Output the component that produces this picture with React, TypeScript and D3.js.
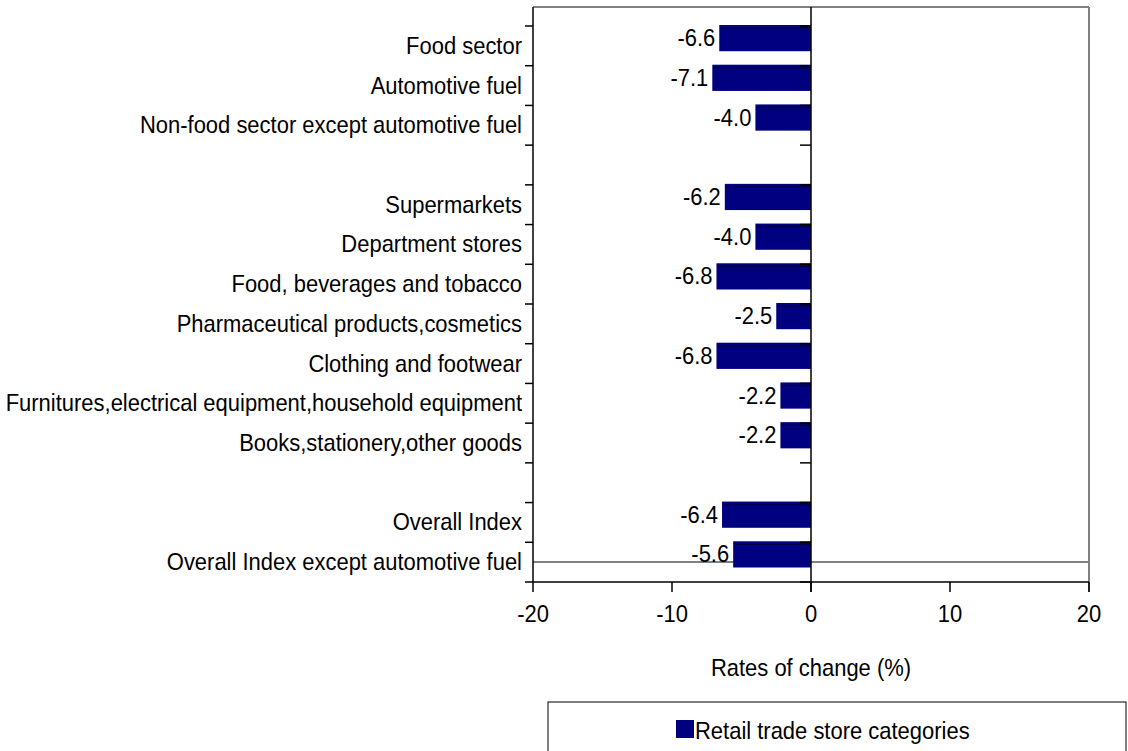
import React from 'react';
import { scaleBand, scaleLinear, range } from 'd3';

const categories = [
  'Food sector',
  'Automotive fuel',
  'Non-food sector except automotive fuel',
  '',
  'Supermarkets',
  'Department stores',
  'Food, beverages and tobacco',
  'Pharmaceutical products,cosmetics',
  'Clothing and footwear',
  'Furnitures,electrical equipment,household equipment',
  'Books,stationery,other goods',
  '',
  'Overall Index',
  'Overall Index except automotive fuel',
];
const values: (number | null)[] = [-6.6, -7.1, -4.0, null, -6.2, -4.0, -6.8, -2.5, -6.8, -2.2, -2.2, null, -6.4, -5.6];
const xTicks = [-20, -10, 0, 10, 20];
const seriesName = 'Retail trade store categories';
const axisTitle = 'Rates of change (%)';

const width = 1128;
const height = 751;
const plot = { left: 533, right: 1089, top: 26, bottom: 582 };
const font = '"Liberation Sans", Arial, sans-serif';
const barColor = '#000080';
const fs = 24;
const sx = 0.915; // text in the picture is a bit narrow

// narrow text helper
function T({ x, y, anchor = 'start', children }: { x: number; y: number; anchor?: string; children: React.ReactNode }) {
  return (
    <text transform={`translate(${x},${y}) scale(${sx},1)`} textAnchor={anchor} fontSize={fs} fill="#000">{children}</text>
  );
}

export default function App() {
  const x = scaleLinear().domain([-20, 20]).range([plot.left, plot.right]);
  const y = scaleBand<number>().domain(range(categories.length)).range([plot.top, plot.bottom]).padding(0);
  const bw = y.bandwidth();
  const barH = bw * 0.66;
  const x0 = x(0);
  const tickYs = range(categories.length + 1).map(i => plot.top + i * bw);

  return (
    <svg width={width} height={height} style={{ position: 'absolute', left: 0, top: 0 }} fontFamily={font}>
      <rect width={width} height={height} fill="#fff" />
      {/* plot frame */}
      <line x1={plot.left} x2={plot.right} y1={7} y2={7} stroke="#808080" strokeWidth={2} />
      <line x1={plot.right} x2={plot.right} y1={7} y2={plot.bottom + 10} stroke="#808080" strokeWidth={2} />
      <line x1={plot.left} x2={plot.right} y1={562} y2={562} stroke="#808080" strokeWidth={2} />

      {/* bars */}
      {values.map((v, i) => v === null ? null : (
        <g key={i}>
          <rect x={x(v)} y={y(i)! - 1} width={x0 - x(v)} height={barH} fill={barColor} />
          <line x1={x(v) + 1} x2={x0} y1={y(i)! + 2} y2={y(i)! + 2} stroke="#00004a" strokeWidth={1.5} />
          <T x={x(v) - 4} y={y(i)! + barH / 2 + 7} anchor="end">{v.toFixed(1)}</T>
        </g>
      ))}

      {/* zero line */}
      <line x1={x0} x2={x0} y1={7} y2={plot.bottom + 10} stroke="#000" strokeWidth={1.5} />
      {tickYs.map((t, i) => <line key={'z' + i} x1={x0 - 11} x2={x0} y1={t} y2={t} stroke="#000" strokeWidth={1.5} />)}

      {/* left axis */}
      <line x1={plot.left} x2={plot.left} y1={7} y2={plot.bottom} stroke="#000" strokeWidth={1.5} />
      {tickYs.map((t, i) => <line key={'l' + i} x1={plot.left - 8} x2={plot.left} y1={t} y2={t} stroke="#000" strokeWidth={1.5} />)}
      {categories.map((c, i) => (
        <T key={'c' + i} x={522} y={y(i)! + bw / 2 + 8} anchor="end">{c}</T>
      ))}

      {/* bottom axis */}
      <line x1={plot.left} x2={plot.right} y1={plot.bottom} y2={plot.bottom} stroke="#000" strokeWidth={1.5} />
      {xTicks.map(t => (
        <g key={t}>
          <line x1={x(t)} x2={x(t)} y1={plot.bottom} y2={plot.bottom + 10} stroke="#000" strokeWidth={1.5} />
          <T x={x(t)} y={622} anchor="middle">{t}</T>
        </g>
      ))}
      <T x={811} y={676} anchor="middle">{axisTitle}</T>

      {/* legend */}
      <rect x={548} y={702} width={578} height={60} fill="#fff" stroke="#000" strokeWidth={1} />
      <rect x={676} y={720} width={18} height={18} fill={barColor} />
      <T x={695} y={739}>{seriesName}</T>
    </svg>
  );
}
